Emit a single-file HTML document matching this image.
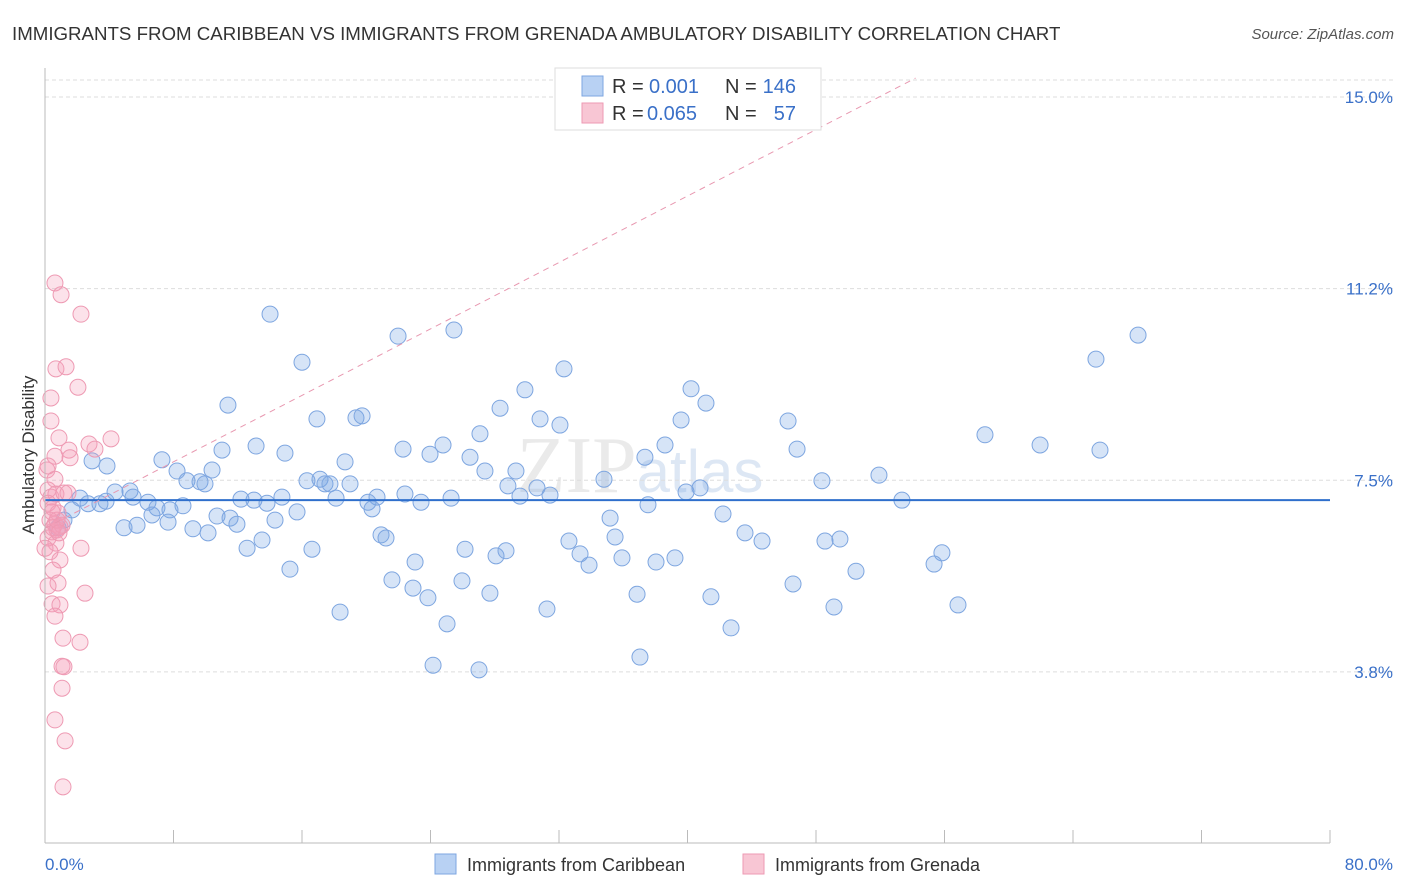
<!DOCTYPE html>
<html><head><meta charset="utf-8"><style>
body{margin:0;background:#fff;font-family:"Liberation Sans",sans-serif}
svg{display:block}
</style></head><body>
<svg id="c" width="1406" height="892" xmlns="http://www.w3.org/2000/svg">
<text x="12" y="40" font-size="18.7" fill="#333">IMMIGRANTS FROM CARIBBEAN VS IMMIGRANTS FROM GRENADA AMBULATORY DISABILITY CORRELATION CHART</text>
<text x="1394" y="39" font-size="15" fill="#555" font-style="italic" text-anchor="end">Source: ZipAtlas.com</text>
<text x="34" y="455" font-size="17" fill="#333" text-anchor="middle" transform="rotate(-90 34 455)">Ambulatory Disability</text>
<text x="640" y="492" font-size="80" fill="#ddd" font-family="Liberation Serif" text-anchor="middle" opacity="0.6">ZIP<tspan fill="#c8d8ee" font-family="Liberation Sans" font-size="60">atlas</tspan></text>
<g id="grid"></g><g id="pts"></g><g id="trend"></g>
<line x1="45" y1="68" x2="45" y2="843" stroke="#bbb"/>
<line x1="45" y1="843" x2="1330" y2="843" stroke="#bbb"/>
<text x="45" y="870" font-size="17" fill="#3a70c8">0.0%</text>
<text x="1393" y="870" font-size="17" fill="#3a70c8" text-anchor="end">80.0%</text>
<g>
<rect x="555" y="68" width="266" height="62" fill="#fff" stroke="#ddd"/>
<rect x="582" y="76" width="21" height="20" fill="#b8d1f3" stroke="#7ea6e0"/>
<rect x="582" y="103" width="21" height="20" fill="#f8c6d4" stroke="#ee9ab3"/>
<text x="612" y="93" font-size="20" fill="#333">R =</text>
<text x="649" y="93" font-size="20" fill="#3a70c8">0.001</text>
<text x="725" y="93" font-size="20" fill="#333">N =</text>
<text x="796" y="93" font-size="20" fill="#3a70c8" text-anchor="end">146</text>
<text x="612" y="120" font-size="20" fill="#333">R =</text>
<text x="647" y="120" font-size="20" fill="#3a70c8">0.065</text>
<text x="725" y="120" font-size="20" fill="#333">N =</text>
<text x="796" y="120" font-size="20" fill="#3a70c8" text-anchor="end">57</text>
</g>
<g>
<rect x="435" y="854" width="21" height="20" fill="#b8d1f3" stroke="#7ea6e0"/>
<text x="467" y="871" font-size="18" fill="#333">Immigrants from Caribbean</text>
<rect x="743" y="854" width="21" height="20" fill="#f8c6d4" stroke="#ee9ab3"/>
<text x="775" y="871" font-size="18" fill="#333">Immigrants from Grenada</text>
</g>
</svg>
<script>
const yTicks=[15.0,11.25,7.5,3.75];
const yTickLabels=["15.0%","11.2%","7.5%","3.8%"];
const xTicks=[0,8,16,24,32,40,48,56,64,72,80];
const bluePx=[[270,314],[398,336],[454,330],[302,362],[228,405],[500,408],[525,390],[564,369],[691,389],[706,403],[317,419],[356,418],[362,416],[540,419],[560,425],[681,420],[788,421],[1096,359],[1138,335],[985,435],[1040,445],[1100,450],[797,449],[665,445],[480,434],[443,445],[403,449],[430,454],[285,453],[256,446],[222,450],[162,460],[177,471],[212,470],[187,481],[200,482],[205,484],[307,481],[320,479],[325,484],[330,484],[345,462],[350,484],[470,457],[485,471],[516,471],[508,486],[537,488],[550,495],[604,479],[645,457],[822,481],[879,475],[107,466],[92,461],[130,491],[115,492],[80,498],[88,504],[100,504],[106,501],[133,497],[148,502],[157,508],[152,515],[170,510],[183,506],[241,499],[254,500],[267,503],[282,497],[336,498],[377,497],[368,502],[372,509],[405,494],[421,502],[451,498],[520,496],[648,505],[686,492],[700,488],[902,500],[72,510],[64,520],[58,528],[124,528],[137,525],[168,522],[193,529],[208,533],[217,516],[230,518],[237,524],[275,520],[297,512],[247,548],[262,540],[312,549],[381,535],[386,538],[415,562],[465,549],[496,556],[506,551],[569,541],[580,554],[589,565],[610,518],[615,537],[622,558],[656,562],[675,558],[723,514],[745,533],[762,541],[825,541],[840,539],[942,553],[934,564],[290,569],[340,612],[392,580],[413,588],[428,598],[462,581],[490,593],[547,609],[637,594],[711,597],[793,584],[834,607],[856,571],[958,605],[447,624],[731,628],[433,665],[479,670],[640,657]];
const pinkPx=[[55,283],[61,295],[81,314],[56,369],[66,367],[78,387],[51,398],[51,421],[59,438],[89,444],[111,439],[69,450],[95,449],[55,456],[70,458],[47,470],[55,479],[48,490],[51,497],[56,494],[64,493],[48,503],[53,508],[58,513],[50,520],[55,524],[60,527],[52,532],[57,530],[62,525],[48,538],[56,543],[81,548],[50,552],[60,560],[53,570],[58,583],[48,586],[85,593],[52,604],[60,605],[55,616],[63,638],[80,642],[62,666],[64,667],[62,688],[55,720],[65,741],[63,787],[53,528],[57,520],[45,548],[48,466],[68,493],[52,512],[59,533]];
const blueX=bluePx.map(p=>+((p[0]-45)/16.0625).toFixed(2));
const blueY=bluePx.map(p=>+(15-(p[1]-97)/51.1).toFixed(2));
const pinkX=pinkPx.map(p=>+((p[0]-45)/16.0625).toFixed(2));
const pinkY=pinkPx.map(p=>+(15-(p[1]-97)/51.1).toFixed(2));
const blueTrend=[7.11,7.11];
const pinkTrend=[6.56,15.37];
const pinkTrendX=[0,54.2];
const X=v=>45+v*16.0625, Y=v=>97+(15-v)*51.1;
const NS="http://www.w3.org/2000/svg";
function mk(t,a,parent){const e=document.createElementNS(NS,t);for(const k in a)e.setAttribute(k,a[k]);document.getElementById(parent).appendChild(e);return e;}
yTicks.forEach((v,i)=>{
 const l=mk('line',{x1:45,x2:1393,y1:Y(v),y2:Y(v),stroke:'#ddd','stroke-dasharray':'4,3'},'grid');
 
 
 const t=mk('text',{x:1393,y:Y(v)+6,'font-size':17,fill:'#3a70c8','text-anchor':'end'},'grid');
 t.textContent=yTickLabels[i];
 
 
});
const topGrid=mk('line',{x1:45,x2:1393,y1:80,y2:80,stroke:'#ddd','stroke-dasharray':'4,3'},'grid');


xTicks.forEach(v=>{
 const l=mk('line',{x1:X(v),x2:X(v),y1:830,y2:843,stroke:'#bbb'},'grid');
 
 
});
blueX.forEach((x,i)=>{
 const c=mk('circle',{cx:X(x),cy:Y(blueY[i]),r:8,fill:'rgba(120,165,230,0.3)',stroke:'#7ea6e0','stroke-width':1},'pts');
 
 
});
pinkX.forEach((x,i)=>{
 const c=mk('circle',{cx:X(x),cy:Y(pinkY[i]),r:8,fill:'rgba(245,160,185,0.3)',stroke:'#ee9ab3','stroke-width':1},'pts');
 
 
});
const bt=mk('line',{x1:X(0),x2:X(80),y1:Y(blueTrend[0]),y2:Y(blueTrend[1]),stroke:'#2f6fcc','stroke-width':2},'trend');


const pt=mk('line',{x1:X(pinkTrendX[0]),x2:X(pinkTrendX[1]),y1:Y(pinkTrend[0]),y2:Y(pinkTrend[1]),stroke:'#e898b0','stroke-width':1,'stroke-dasharray':'6,5'},'trend');


</script>
</body></html>
